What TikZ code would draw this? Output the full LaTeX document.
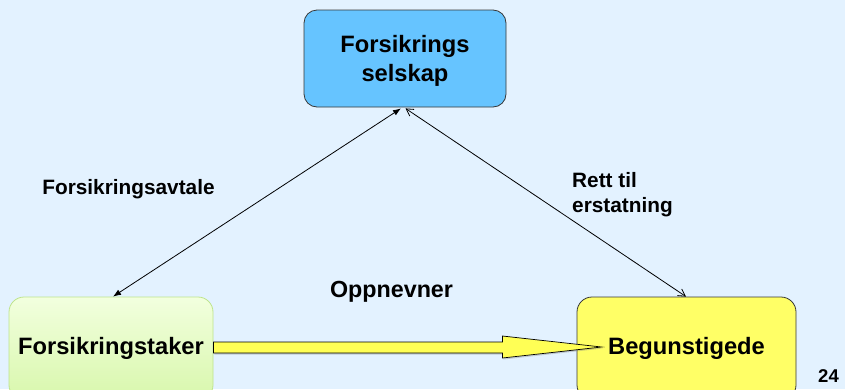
\documentclass[tikz,border=0pt]{standalone}
\usepackage{fontspec}
\setmainfont{Liberation Sans}
\usetikzlibrary{arrows.meta,calc,shadows}

\definecolor{bgblue}{RGB}{227,242,255}
\definecolor{insblue}{RGB}{102,196,255}
\definecolor{takertop}{RGB}{242,255,222}
\definecolor{takerbot}{RGB}{216,247,172}
\definecolor{takeredge}{RGB}{190,228,140}
\definecolor{benyellow}{RGB}{255,255,102}
\definecolor{arrowyellow}{RGB}{255,255,85}
\definecolor{edgegray}{RGB}{55,55,55}

\begin{document}
\begin{tikzpicture}[x=1pt,y=-1pt,
  box/.style={rounded corners=13pt, line width=0.8pt, inner sep=0pt,
    align=center, font=\bfseries\fontsize{23.7}{29}\selectfont},
  lbl/.style={inner sep=0pt, font=\bfseries\fontsize{20.8}{25}\selectfont},
  relation/.style={line width=0.8pt, black},
  blockarrow/.style={draw=black, line width=0.7pt, fill=arrowyellow,
    line join=miter,
    drop shadow={shadow xshift=1pt, shadow yshift=-1.5pt, opacity=0.35}}
]
% canvas
\clip (0,0) rectangle (845,389);
\fill[bgblue] (0,0) rectangle (845,389);

% the three parties
\node[box, draw=edgegray, fill=insblue, minimum width=202pt,
      minimum height=97pt, text depth=0pt] (ins) at (405,58.5)
      {Forsikrings\\selskap};
\node[box, rounded corners=15pt, draw=takeredge, top color=takertop,
      bottom color=takerbot, minimum width=204pt, minimum height=103pt]
      (tk) at (111,348.5) {Forsikringstaker};
\node[box, rounded corners=15pt, draw=edgegray, fill=benyellow,
      minimum width=219pt, minimum height=103pt]
      (bg) at (686.5,348.5) {Begunstigede};

% agreement and claim relations
\draw[relation, {Latex[length=8pt,width=6pt]}-{Latex[length=8pt,width=6pt]}]
  ($(tk.north)+(2,0)$) -- ($(ins.south)+(-4,1)$);
\draw[relation, {Straight Barb[length=7pt,width=8pt]}-{Straight Barb[length=7pt,width=8pt]}]
  ($(ins.south)+(0.5,1)$) -- ($(bg.north)+(-0.5,0)$);

% appointment arrow
\coordinate (tip) at ($(bg.west)+(25,-1.5)$);
\draw[blockarrow]
  ($(tk.east)+(0,-6.5)$) -- ($(tk.east)+(289,-6.5)$)
  -- ($(tk.east)+(289,-12.5)$) -- (tip)
  -- ($(tk.east)+(289,9.5)$) -- ($(tk.east)+(289,4.5)$)
  -- ($(tk.east)+(0,4.5)$) -- cycle;

% labels
\node[lbl, anchor=base] (avtale) at (128.5,194) {Forsikringsavtale};
\node[lbl, anchor=west, align=left] (rett) at (572,194.3) {Rett til\\erstatning};
\node[lbl, anchor=base, font=\bfseries\fontsize{23.3}{28}\selectfont]
  (oppn) at (391.5,297) {Oppnevner};
\node[lbl, anchor=base, font=\bfseries\fontsize{18.5}{22}\selectfont]
  (page) at (828.5,382) {24};
\end{tikzpicture}
\end{document}
